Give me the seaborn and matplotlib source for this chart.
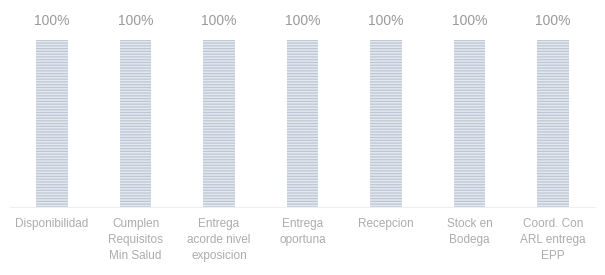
import pandas as pd
import matplotlib.pyplot as plt
import seaborn as sns

# Datos del indicador
categorias = ["Disponibilidad", "Cumplen\nRequisitos\nMin Salud", "Entrega\nacorde nivel\nexposicion",
              "Entrega\noportuna", "Recepcion", "Stock en\nBodega", "Coord. Con\nARL entrega\nEPP"]
valores = [100, 100, 100, 100, 100, 100, 100]
etiquetas = ["100%", "100%", "100%", "100%", "100%", "100%", "100%"]

df = pd.DataFrame({"categoria": categorias, "valor": valores})

sns.set_style("white")
plt.rcParams["font.family"] = ["Liberation Sans", "DejaVu Sans"]
plt.rcParams["hatch.linewidth"] = 0.9

fig = plt.figure(figsize=(6.05, 2.75), dpi=100)
ax = fig.add_axes([0.017, 0.247, 0.966, 0.735])
sns.barplot(data=df, x="categoria", y="valor", color="#e3e8ef", width=0.38,
            saturation=1, ax=ax)

# rayado horizontal de las barras
for p in ax.patches:
    p.set_hatch("------")
    p.set_edgecolor("#bcc6d5")
    p.set_linewidth(0)

for i, t in enumerate(etiquetas):
    ax.text(i, valores[i] + 7, t, ha="center", va="bottom", fontsize=10, color="#9a9a9a")

ax.set_ylim(0, 121)
ax.set_xlim(-0.5, len(categorias) - 0.5)
ax.set_xlabel("")
ax.set_ylabel("")
ax.set_yticks([])
ax.tick_params(axis="x", length=0, labelsize=8.5, labelcolor="#acacac", pad=8)
for lbl in ax.get_xticklabels():
    lbl.set_linespacing(1.45)
for s in ["top", "left", "right"]:
    ax.spines[s].set_visible(False)
ax.spines["bottom"].set_color("#efefef")
ax.spines["bottom"].set_linewidth(0.8)

plt.savefig("out.png", dpi=100)
plt.close()
